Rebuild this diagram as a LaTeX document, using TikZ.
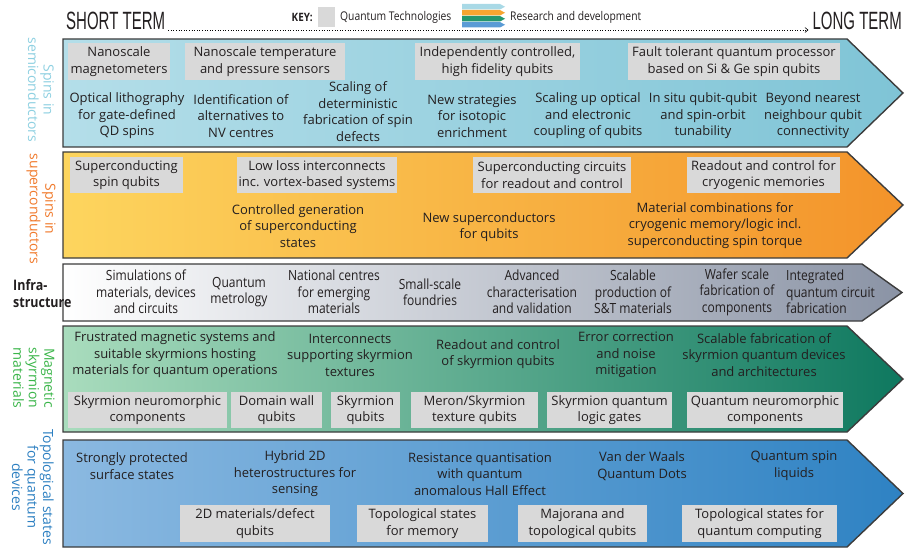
\documentclass[tikz,border=0pt]{standalone}
\usepackage{fontspec}
\setmainfont{Open Sans}
\newfontfamily\condfont[FakeStretch=0.86]{Open Sans}
\newfontfamily\headfont[FakeStretch=0.6]{Liberation Sans}
\usetikzlibrary{arrows.meta}
\definecolor{qtgray}{HTML}{D9D9D9}
\definecolor{txt}{HTML}{231F20}
\definecolor{bord}{HTML}{3C3C3C}
\definecolor{bAl}{HTML}{B4DEE9}
\definecolor{bAr}{HTML}{7FC4D6}
\definecolor{bBl}{HTML}{FDD55E}
\definecolor{bBr}{HTML}{F3932A}
\definecolor{bCl}{HTML}{FFFFFF}
\definecolor{bCr}{HTML}{8A93A5}
\definecolor{bDl}{HTML}{A9DCBD}
\definecolor{bDr}{HTML}{0E785F}
\definecolor{bEl}{HTML}{8BB9E1}
\definecolor{bEr}{HTML}{2E82C3}
\definecolor{labA}{HTML}{8ED0E1}
\definecolor{labB}{HTML}{F07A2C}
\definecolor{labD}{HTML}{3BB54A}
\definecolor{labE}{HTML}{2C7FC1}
\definecolor{kA}{HTML}{A9D9E6}
\definecolor{kB}{HTML}{F6A531}
\definecolor{kC}{HTML}{24976F}
\definecolor{kD}{HTML}{5A9BD5}
\begin{document}
\begin{tikzpicture}[x=1pt,y=-1pt,
  every node/.style={text=txt},
  rd/.style={align=center, inner sep=0pt, font=\fontsize{13}{16.5}\selectfont},
  qt/.style={rd, fill=qtgray, minimum height=36.5},
  inf/.style={align=center, inner sep=0pt, font=\condfont\fontsize{14}{16.5}\selectfont},
  band/.style={draw=bord, line width=1.4pt, line join=miter},
  lab/.style={rotate=-90, align=center, inner sep=0pt, font=\fontsize{14}{15.5}\selectfont},
  keyt/.style={inner sep=0pt, font=\condfont\fontsize{12}{13}\selectfont},
  headt/.style={inner sep=0pt, font=\headfont\fontsize{25}{28}\selectfont}
]
\useasboundingbox (0,0) rectangle (905,548);

% ---------- header ----------
\node[headt, anchor=base west] (st) at (66,30) {SHORT TERM};
\node[headt, anchor=base east] (lt) at (902,30) {LONG TERM};
\draw[dotted, line width=0.6pt, -{Straight Barb[length=3pt,width=5pt]}] (st.base east) ++(3,0) coordinate (d0) (d0) -- ([xshift=-4pt]lt.base west);
\node[keyt, anchor=east, font=\condfont\bfseries\fontsize{11.5}{13}\selectfont] (key) at (313,17) {KEY:};
\fill[qtgray] (318,7) rectangle (335,27);
\node[keyt, anchor=west] (kq) at (340,17) {Quantum Technologies};
\foreach \c [count=\i] in {kA,kB,kC,kD}{
  \fill[\c] (462,{4+6*(\i-1)}) -- (500,{4+6*(\i-1)}) -- (505,{6.75+6*(\i-1)}) -- (500,{9.5+6*(\i-1)}) -- (462,{9.5+6*(\i-1)}) -- cycle;
}
\node[keyt, anchor=west] (kr) at (510,17) {Research and development};

% ---------- bands ----------
\path[band, left color=bAl, right color=bAr] (63,39) -- (847,39) -- (903,93) -- (847,147) -- (63,147) -- cycle;
\path[band, left color=bBl, right color=bBr] (63,152) -- (847,152) -- (903,205) -- (847,258) -- (63,258) -- cycle;
\path[band, left color=bCl, right color=bCr] (63,264) -- (862,264) -- (902,292.5) -- (862,321) -- (63,321) -- cycle;
\path[band, left color=bDl, right color=bDr] (63,326) -- (847,326) -- (903,379) -- (847,432) -- (63,432) -- cycle;
\path[band, left color=bEl, right color=bEr] (63,440) -- (847,440) -- (903,493.5) -- (847,547) -- (63,547) -- cycle;

% ---------- side labels ----------
\node[lab, text=labA] (lA) at (41,90) {Spins in\\semiconductors};
\node[lab, text=labB] (lB) at (41,209) {Spins in\\superconductors};
\node[inner sep=0pt, align=left, anchor=west, font=\condfont\bfseries\fontsize{14.5}{17}\selectfont] (lC) at (13,293.5) {Infra-\\structure};
\node[lab, text=labD] (lD) at (34,378) {Magnetic\\skyrmion\\materials};
\node[lab, text=labE] (lE) at (33,487) {Topological states\\for quantum\\devices};

% ---------- band 1 : semiconductors ----------
\node[qt, minimum width=102] (a1) at (119,61.5) {Nanoscale\\magnetometers};
\node[qt, minimum width=160] (a2) at (265,61.5) {Nanoscale temperature\\and pressure sensors};
\node[qt, minimum width=165] (a3) at (497.5,61.5) {Independently controlled,\\high fidelity qubits};
\node[qt, minimum width=212] (a4) at (734,61.5) {Fault tolerant quantum processor\\based on Si \& Ge spin qubits};
\node[rd] (a5) at (127,116) {Optical lithography\\for gate-defined\\QD spins};
\node[rd] (a6) at (241,116) {Identification of\\alternatives to\\NV centres};
\node[rd] (a7) at (358,111.5) {Scaling of\\deterministic\\fabrication of spin\\defects};
\node[rd] (a8) at (472,116) {New strategies\\for isotopic\\enrichment};
\node[rd] (a9) at (588,116) {Scaling up optical\\and electronic\\coupling of qubits};
\node[rd] (a10) at (703,116) {In situ qubit-qubit\\and spin-orbit\\tunability};
\node[rd] (a11) at (813,116) {Beyond nearest\\neighbour qubit\\connectivity};

% ---------- band 2 : superconductors ----------
\node[qt, minimum width=113] (b1) at (126.5,175) {Superconducting\\spin qubits};
\node[qt, minimum width=160] (b2) at (317,175) {Low loss interconnects\\inc. vortex-based systems};
\node[qt, minimum width=158] (b3) at (552,175) {Superconducting circuits\\for readout and control};
\node[qt, minimum width=153] (b4) at (763.5,175) {Readout and control for\\cryogenic memories};
\node[rd] (b5) at (298,226) {Controlled generation\\of superconducting\\states};
\node[rd] (b6) at (489,227) {New superconductors\\for qubits};
\node[rd] (b7) at (715,225.5) {Material combinations for\\cryogenic memory/logic incl.\\superconducting spin torque};

% ---------- band 3 : infrastructure ----------
\node[inf] (c1) at (146,292) {Simulations of\\materials, devices\\and circuits};
\node[inf] (c2) at (239,292) {Quantum\\metrology};
\node[inf] (c3) at (334,292) {National centres\\for emerging\\materials};
\node[inf] (c4) at (430,292) {Small-scale\\foundries};
\node[inf] (c5) at (532,292) {Advanced\\characterisation\\and validation};
\node[inf] (c6) at (633,292) {Scalable\\production of\\S\&T materials};
\node[inf] (c7) at (737,292) {Wafer scale\\fabrication of\\components};
\node[inf, align=left, anchor=west] (c8) at (786,292) {Integrated\\quantum circuit\\fabrication};

% ---------- band 4 : skyrmion ----------
\node[rd] (d1) at (175,355) {Frustrated magnetic systems and\\suitable skyrmions hosting\\materials for quantum operations};
\node[rd] (d2) at (350,355) {Interconnects\\supporting skyrmion\\textures};
\node[rd] (d3) at (498,354) {Readout and control\\of skyrmion qubits};
\node[rd] (d4) at (626,355) {Error correction\\and noise\\mitigation};
\node[rd] (d5) at (764,355) {Scalable fabrication of\\skyrmion quantum devices\\and architectures};
\node[qt, minimum width=159] (d6) at (147.5,410) {Skyrmion neuromorphic\\components};
\node[qt, minimum width=91] (d7) at (276.5,410) {Domain wall\\qubits};
\node[qt, minimum width=69] (d8) at (365.5,410) {Skyrmion\\qubits};
\node[qt, minimum width=127] (d9) at (474.5,410) {Meron/Skyrmion\\texture qubits};
\node[qt, minimum width=125] (d10) at (609.5,410) {Skyrmion quantum\\logic gates};
\node[qt, minimum width=156] (d11) at (765,410) {Quantum neuromorphic\\components};

% ---------- band 5 : topological ----------
\node[rd] (e1) at (132,466) {Strongly protected\\surface states};
\node[rd] (e2) at (295,474) {Hybrid 2D\\heterostructures for\\sensing};
\node[rd] (e3) at (480,474) {Resistance quantisation\\with quantum\\anomalous Hall Effect};
\node[rd] (e4) at (642,466) {Van der Waals\\Quantum Dots};
\node[rd] (e5) at (794,466) {Quantum spin\\liquids};
\node[qt, minimum width=150] (e6) at (255,523.5) {2D materials/defect\\qubits};
\node[qt, minimum width=131] (e7) at (422.5,523.5) {Topological states\\for memory};
\node[qt, minimum width=129] (e8) at (582.5,523.5) {Majorana and\\topological qubits};
\node[qt, minimum width=155] (e9) at (759.5,523.5) {Topological states for\\quantum computing};
\end{tikzpicture}
\end{document}
